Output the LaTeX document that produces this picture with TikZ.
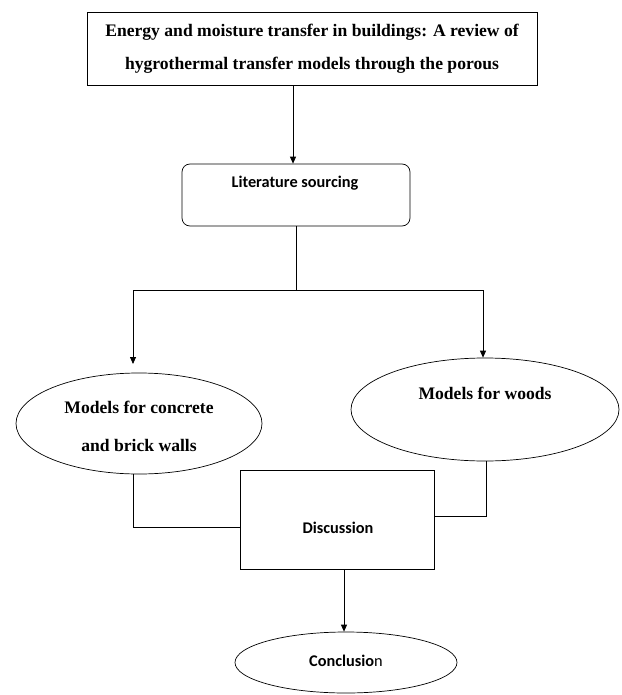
\documentclass[tikz,border=0pt]{standalone}
\usepackage{fontspec}
\setmainfont{Liberation Serif}
\newfontfamily\calfont{Carlito}
\usetikzlibrary{arrows.meta,shapes.geometric}
\begin{document}
\begin{tikzpicture}[x=1pt,y=-1pt,
  line width=0.9pt,
  box/.style={draw,rectangle,inner sep=0pt},
  oval/.style={draw,ellipse,inner sep=0pt,line width=0.7pt},
  serifb/.style={font=\fontsize{17.6}{33}\selectfont\bfseries,align=center},
  calb/.style={font=\calfont\fontsize{16.3}{19}\selectfont\bfseries},
  arr/.style={-{Triangle[length=7pt,width=6pt]}},
  ln/.style={line width=0.8pt}]
\useasboundingbox (0,0) rectangle (621,695);
% title
\node[box,minimum width=450pt,minimum height=73pt] (title) at (312,48.5) {};
\node[serifb] (titletxt) at (312,48.5) {Energy and moisture transfer in buildings: A review of\\hygrothermal transfer models through the porous};
% literature
\node[box,rounded corners=8pt,minimum width=228pt,minimum height=62pt,line width=0.7pt] (lit) at (296,195) {};
\node[calb] (littxt) at (295,183) {Literature sourcing};
% ellipses
\node[oval,minimum width=246pt,minimum height=101pt] (cb) at (139,423.5) {};
\node[serifb,font=\fontsize{17.6}{38}\selectfont\bfseries] (cbtxt) at (139,426) {Models for concrete\\and brick walls};
\node[oval,minimum width=268pt,minimum height=103pt] (wd) at (485,409.5) {};
\node[serifb] (wdtxt) at (485,393) {Models for woods};
% discussion
\node[box,minimum width=194pt,minimum height=99pt,line width=0.8pt] (disc) at (337.5,519.5) {};
\node[calb] (disctxt) at (338,528) {Discussion};
% conclusion
\node[oval,minimum width=222pt,minimum height=61pt] (conc) at (346,662.5) {};
\node[calb] (conctxt) at (346,661) {Conclusio\mdseries n};
% connectors
\coordinate (jc) at (296,290);
\coordinate (jL) at (133,290);
\coordinate (jR) at (483,290);
\coordinate (tipL) at (133,364);
\coordinate (bL) at (133,527);
\coordinate (bR) at (486,516);
\coordinate (cx) at (344,0);
\coordinate (tx) at (293,0);
\draw[arr,ln] (title.south -| tx) -- (lit.north -| tx);
\draw[ln] (lit.south) -- (jc);
\draw[ln] (jL) -- (jR);
\draw[arr,ln] (jL) -- (tipL);
\draw[arr,ln] (jR) -- (jR |- wd.north);
\draw[ln] (cb.south -| bL) -- (bL) -- (bL -| disc.west);
\draw[ln] (wd.south -| bR) -- (bR) -- (bR -| disc.east);
\draw[arr,ln] (disc.south -| cx) -- (conc.north -| cx);
\end{tikzpicture}
\end{document}
